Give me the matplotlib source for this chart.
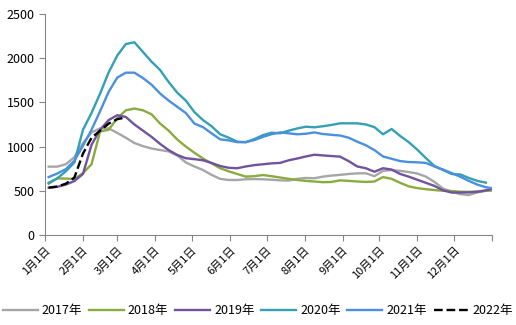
import matplotlib.pyplot as plt
import numpy as np

plt.rcParams['font.family'] = ['Noto Sans CJK SC', 'DejaVu Sans']

# 周度数据（每年第1周起）
labels = ['2017年', '2018年', '2019年', '2020年', '2021年', '2022年']
colors = ['#a6a6a6', '#8aab3e', '#71529e', '#33a0b5', '#4a90df', '#000000']

v2017 = [773, 773, 800, 880, 1040, 1160, 1206, 1206, 1155, 1100, 1040, 1005, 978,
         961, 945, 900, 820, 775, 735, 680, 635, 622, 622, 630, 632, 630, 625,
         618, 615, 635, 645, 642, 660, 672, 680, 690, 697, 698, 665, 725, 735,
         725, 712, 695, 660, 600, 525, 490, 462, 452, 482, 500, 510]
v2018 = [580, 640, 638, 632, 700, 800, 1170, 1190, 1320, 1410, 1430, 1410, 1365,
         1260, 1180, 1080, 1000, 930, 865, 810, 755, 720, 690, 660, 665, 678, 665,
         650, 635, 622, 612, 605, 597, 600, 618, 612, 605, 600, 605, 655, 635,
         590, 550, 530, 518, 508, 500, 497, 490, 488, 492, 500, 505]
v2019 = [535, 545, 570, 610, 690, 1020, 1190, 1300, 1355, 1335, 1250, 1180, 1110,
         1030, 960, 905, 868, 858, 845, 815, 780, 760, 755, 775, 790, 800, 810,
         815, 845, 865, 888, 908, 900, 893, 886, 835, 775, 755, 715, 755, 740,
         690, 660, 625, 590, 555, 505, 480, 480, 482, 488, 505, 525]
v2020 = [590, 640, 720, 820, 1190, 1380, 1600, 1840, 2030, 2160, 2180, 2070, 1960,
         1866, 1730, 1610, 1520, 1390, 1300, 1230, 1140, 1100, 1055, 1050, 1085,
         1130, 1157, 1150, 1180, 1205, 1225, 1218, 1230, 1245, 1263, 1263, 1263,
         1250, 1220, 1139, 1199, 1120, 1050, 965, 870, 780, 735, 690, 685, 645,
         612, 592]
v2021 = [655, 695, 745, 840, 1010, 1190, 1400, 1620, 1780, 1836, 1836, 1775, 1700,
         1600, 1520, 1450, 1380, 1260, 1220, 1150, 1082, 1070, 1050, 1050, 1074,
         1110, 1140, 1160, 1150, 1139, 1145, 1160, 1142, 1133, 1125, 1100, 1055,
         1015, 960, 888, 862, 836, 825, 822, 815, 775, 740, 700, 660, 612, 570,
         540, 525]
v2022 = [535, 548, 580, 650, 920, 1100, 1180, 1260, 1310, 1330]
series = [v2017, v2018, v2019, v2020, v2021, v2022]

month_days = [0, 31, 59, 90, 120, 151, 181, 212, 243, 273, 304, 334]
month_labels = [f'{m}月1日' for m in range(1, 13)]

fig = plt.figure(figsize=(5.16, 3.25), dpi=100)
ax = fig.add_axes([0.0872, 0.277, 0.8663, 0.68])

for vals, lab, c in zip(series, labels, colors):
    days = 3 + 7 * np.arange(len(vals))
    ls = '--' if lab == '2022年' else '-'
    ax.plot(days, vals, color=c, lw=1.7, ls=ls, label=lab)

ax.set_xlim(0, 365)
ax.set_ylim(0, 2500)
ax.set_yticks(range(0, 2501, 500))
ax.set_xticks(month_days + [365])
ax.set_xticklabels(month_labels + [''], rotation=45, ha='right',
                   rotation_mode='anchor', fontsize=8)
ax.tick_params(axis='y', labelsize=9, length=4, color='#868686')
ax.tick_params(axis='x', length=4, color='#868686', pad=3)
for s in ['top', 'right']:
    ax.spines[s].set_visible(False)
for s in ['left', 'bottom']:
    ax.spines[s].set_color('#868686')

fig.legend(loc='center', bbox_to_anchor=(0.5, 0.045), ncol=6, frameon=False,
           fontsize=9, handlelength=2.8, handletextpad=0.3, columnspacing=0.55,
           borderaxespad=0)

plt.savefig('out.png', dpi=100)
